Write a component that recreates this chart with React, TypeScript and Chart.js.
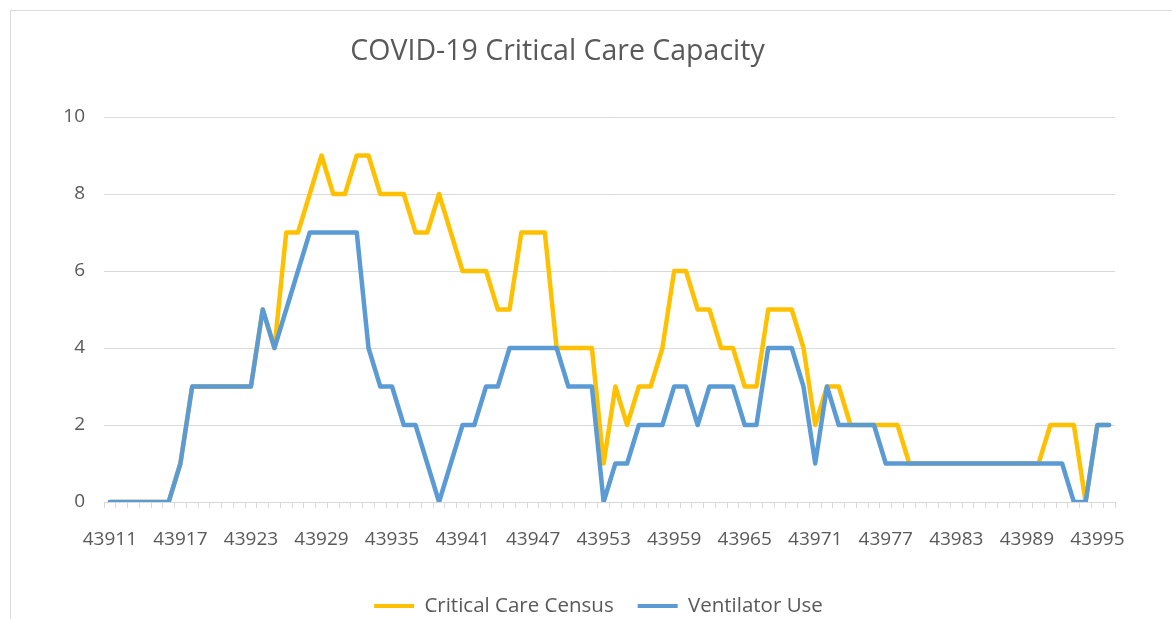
import React, { useEffect, useRef } from "react";
import { Chart, registerables } from "chart.js";

Chart.register(...registerables);

const categories: string[] = [
  "43911", "43912", "43913", "43914", "43915", "43916", "43917", "43918", "43919", "43920",
  "43921", "43922", "43923", "43924", "43925", "43926", "43927", "43928", "43929", "43930",
  "43931", "43932", "43933", "43934", "43935", "43936", "43937", "43938", "43939", "43940",
  "43941", "43942", "43943", "43944", "43945", "43946", "43947", "43948", "43949", "43950",
  "43951", "43952", "43953", "43954", "43955", "43956", "43957", "43958", "43959", "43960",
  "43961", "43962", "43963", "43964", "43965", "43966", "43967", "43968", "43969", "43970",
  "43971", "43972", "43973", "43974", "43975", "43976", "43977", "43978", "43979", "43980",
  "43981", "43982", "43983", "43984", "43985", "43986", "43987", "43988", "43989", "43990",
  "43991", "43992", "43993", "43994", "43995", "43996",
];

const criticalCareCensus: number[] = [
  0, 0, 0, 0, 0, 0, 1, 3, 3, 3,
  3, 3, 3, 5, 4, 7, 7, 8, 9, 8,
  8, 9, 9, 8, 8, 8, 7, 7, 8, 7,
  6, 6, 6, 5, 5, 7, 7, 7, 4, 4,
  4, 4, 1, 3, 2, 3, 3, 4, 6, 6,
  5, 5, 4, 4, 3, 3, 5, 5, 5, 4,
  2, 3, 3, 2, 2, 2, 2, 2, 1, 1,
  1, 1, 1, 1, 1, 1, 1, 1, 1, 1,
  2, 2, 2, 0, 2, 2,
];

const ventilatorUse: number[] = [
  0, 0, 0, 0, 0, 0, 1, 3, 3, 3,
  3, 3, 3, 5, 4, 5, 6, 7, 7, 7,
  7, 7, 4, 3, 3, 2, 2, 1, 0, 1,
  2, 2, 3, 3, 4, 4, 4, 4, 4, 3,
  3, 3, 0, 1, 1, 2, 2, 2, 3, 3,
  2, 3, 3, 3, 2, 2, 4, 4, 4, 3,
  1, 3, 2, 2, 2, 2, 1, 1, 1, 1,
  1, 1, 1, 1, 1, 1, 1, 1, 1, 1,
  1, 1, 0, 0, 2, 2,
];

const yTicks = { min: 0, max: 10, step: 2 };
const labelEvery = 6;

const TEXT = "#595959";
const GRID = "#d9d9d9";
const YELLOW = "#FFC000";
const BLUE = "#5B9BD5";

const borderPlugin = {
  id: "outerBorder",
  beforeDraw(chart: any) {
    const ctx = chart.ctx;
    ctx.save();
    ctx.strokeStyle = GRID;
    ctx.lineWidth = 1;
    ctx.strokeRect(10.5, 10.5, 1400, 800);
    ctx.restore();
  },
};

const legendShift = {
  id: "legendShift",
  afterLayout(chart: any) {
    const lg = chart.legend;
    if (lg) {
      lg.left += 41;
      lg.right += 41;
    }
  },
};

export default function App() {
  const ref = useRef<HTMLCanvasElement | null>(null);

  useEffect(() => {
    if (!ref.current) return;
    Chart.defaults.font.family = "'Open Sans', sans-serif";
    Chart.defaults.color = TEXT;
    const defaultGen = (Chart.defaults.plugins.legend.labels as any).generateLabels;
    const chart = new Chart(ref.current, {
      type: "line",
      data: {
        labels: categories,
        datasets: [
          {
            label: "Critical Care Census",
            data: criticalCareCensus,
            borderColor: YELLOW,
            backgroundColor: YELLOW,
            borderWidth: 4.5,
            pointRadius: 0,
            borderJoinStyle: "round",
            borderCapStyle: "round",
            tension: 0,
            order: 1,
          },
          {
            label: "Ventilator Use",
            data: ventilatorUse,
            borderColor: BLUE,
            backgroundColor: BLUE,
            borderWidth: 4.5,
            pointRadius: 0,
            borderJoinStyle: "round",
            borderCapStyle: "round",
            tension: 0,
            order: 0,
          },
        ],
      },
      options: {
        animation: false,
        responsive: false,
        maintainAspectRatio: false,
        layout: { padding: { left: 0, right: 57, top: 35, bottom: 13.75 } },
        plugins: {
          title: {
            display: true,
            text: "COVID-19 Critical Care Capacity",
            color: TEXT,
            font: { size: 28.5, weight: "normal" },
            padding: { top: 0, bottom: 47.8 },
          },
          legend: {
            display: true,
            position: "bottom",
            labels: {
              boxWidth: 40,
              boxHeight: 4,
              padding: 24,
              color: TEXT,
              font: { size: 20.5 },
              sort: (a: any, b: any) => a.datasetIndex - b.datasetIndex,
              generateLabels: (chart: any) =>
                defaultGen(chart).map((it: any) => ({
                  ...it,
                  lineWidth: 0,
                  fillStyle: it.strokeStyle,
                })),
            },
          },
          tooltip: { enabled: false },
        },
        scales: {
          x: {
            type: "category",
            offset: true,
            afterFit: (s: any) => {
              s.height = 69.75;
            },
            grid: {
              display: true,
              drawOnChartArea: false,
              drawTicks: true,
              tickLength: 6,
              offset: true,
              color: GRID,
            },
            border: { display: true, color: GRID, width: 1 },
            ticks: {
              autoSkip: false,
              maxRotation: 0,
              minRotation: 0,
              padding: 20,
              color: TEXT,
              font: { size: 19 },
              callback: (_v: any, i: number) => (i % labelEvery === 0 ? categories[i] : ""),
            },
          },
          y: {
            min: yTicks.min,
            max: yTicks.max,
            afterFit: (s: any) => {
              s.width = 104;
            },
            grid: { color: GRID, drawTicks: false, lineWidth: 1 },
            border: { display: false },
            ticks: {
              stepSize: yTicks.step,
              padding: 19,
              color: TEXT,
              font: { size: 19 },
            },
          },
        },
      },
      plugins: [borderPlugin, legendShift],
    });
    return () => chart.destroy();
  }, []);

  return (
    <div style={{ position: "absolute", left: 0, top: 0, width: 1172, height: 619, overflow: "hidden", background: "#fff" }}>
      <canvas ref={ref} width={1172} height={640} style={{ display: "block", width: 1172, height: 640 }} />
    </div>
  );
}
